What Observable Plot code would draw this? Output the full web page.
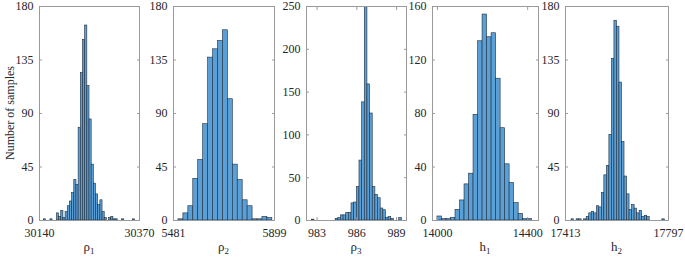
<!DOCTYPE html>
<html><head><meta charset="utf-8">
<script src="https://cdn.jsdelivr.net/npm/d3@7"></script>
<script src="https://cdn.jsdelivr.net/npm/@observablehq/plot@0.6"></script>
<style>
body{margin:0;background:#fff;}
#chart{position:relative;width:685px;height:267px;font-family:"Liberation Serif","Times New Roman",serif;overflow:hidden;}
#chart svg{position:absolute;top:0;overflow:visible;}
#ylab{position:absolute;left:10px;top:113px;transform:translate(-50%,-50%) rotate(-90deg);font-size:12px;color:#262626;white-space:nowrap;}
</style></head><body><div id="chart"><div id="ylab">Number of samples</div></div>
<script>
// ρ1
const rho1Counts = [1,0,0,1,0,0,6,3,8,2,7,12,16,23,34,30,78,124,152,164,113,85,47,31,22,13,17,7,2,0,2,3,1,1,0,0,1,0,0,0,0,1];
const rho1BinStart = 30150, rho1BinWidth = 5;
const rho1XDomain = [30140, 30370], rho1XTicks = [30140, 30370], rho1YTicks = [0,45,90,135,180];
// ρ2
const rho2Counts = [1,6,12,35,51,81,137,144,151,160,102,47,34,17,12,1,1,3,2];
const rho2BinStart = 5501.5, rho2BinWidth = 20.45;
const rho2XDomain = [5481, 5899], rho2XTicks = [5481, 5899], rho2YTicks = [0,45,90,135,180];
// ρ3
const rho3Counts = [1,0,0,0,0,0,0,0,0,2,3,6,6,9,9,20,21,39,70,138,260,159,125,39,30,26,14,12,3,4,2,0,0,3];
const rho3BinStart = 982.6, rho3BinWidth = 0.2;
const rho3XDomain = [982.2, 989.75], rho3XTicks = [983, 986, 989], rho3YTicks = [0,50,100,150,200,250];
// h1
const h1Counts = [3,1,1,2,8,15,27,35,79,134,154,137,140,106,69,42,28,13,5,1,1];
const h1BinStart = 14000, h1BinWidth = 20;
const h1XDomain = [13978, 14448], h1XTicks = [14000, 14400], h1YTicks = [0,40,80,120,160];
// h2
const h2Counts = [1,0,1,1,0,1,3,6,7,6,12,11,23,38,46,72,136,168,163,116,66,37,22,9,13,10,6,8,3,4,3,0,0,0,0,0,1];
const h2BinStart = 17435.6, h2BinWidth = 9.4;
const h2XDomain = [17413, 17797], h2XTicks = [17413, 17797], h2YTicks = [0,45,90,135,180];

const panels = [
  {counts: rho1Counts, start: rho1BinStart, bw: rho1BinWidth, xd: rho1XDomain, xt: rho1XTicks, yt: rho1YTicks, left: 39, right: 139, sym: "ρ", sub: "1"},
  {counts: rho2Counts, start: rho2BinStart, bw: rho2BinWidth, xd: rho2XDomain, xt: rho2XTicks, yt: rho2YTicks, left: 173, right: 274, sym: "ρ", sub: "2"},
  {counts: rho3Counts, start: rho3BinStart, bw: rho3BinWidth, xd: rho3XDomain, xt: rho3XTicks, yt: rho3YTicks, left: 305.5, right: 405.5, sym: "ρ", sub: "3"},
  {counts: h1Counts, start: h1BinStart, bw: h1BinWidth, xd: h1XDomain, xt: h1XTicks, yt: h1YTicks, left: 432, right: 538, sym: "h", sub: "1"},
  {counts: h2Counts, start: h2BinStart, bw: h2BinWidth, xd: h2XDomain, xt: h2XTicks, yt: h2YTicks, left: 565, right: 668, sym: "h", sub: "2"}
];

const chartEl = document.getElementById("chart");
const mL = 34, mR = 20, plotTop = 6, plotBottom = 220, H = 267;
const barFill = "#5a9fd6", barEdge = "#1e2d3c", frameColor = "#9a9a9a", textColor = "#262626";

for (const p of panels) {
  const bars = p.counts.map((c, i) => ({x1: p.start + i * p.bw, x2: p.start + (i + 1) * p.bw, y: c})).filter(d => d.y > 0);
  const yMax = p.yt[p.yt.length - 1];
  const svg = Plot.plot({
    width: (p.right - p.left) + mL + mR,
    height: H,
    marginLeft: mL, marginRight: mR, marginTop: plotTop, marginBottom: H - plotBottom,
    style: {fontFamily: "'Liberation Serif','Times New Roman',serif", fontSize: "12px", color: textColor, background: "transparent", overflow: "visible"},
    x: {domain: p.xd},
    y: {domain: [0, yMax]},
    marks: [
      Plot.rect(bars, {x1: "x1", x2: "x2", y1: 0, y2: "y", fill: barFill, stroke: barEdge, strokeWidth: 0.6, clip: true}),
      Plot.frame({stroke: frameColor, strokeWidth: 1}),
      Plot.axisY({ticks: p.yt, anchor: "left", tickSize: -3, tickPadding: 9, stroke: frameColor, fill: textColor, label: null}),
      Plot.axisY({ticks: p.yt, anchor: "right", tickSize: -3, tickFormat: () => "", stroke: frameColor, label: null}),
      Plot.axisX({ticks: p.xt, anchor: "bottom", tickSize: -3, tickPadding: 11, tickFormat: d => String(d), stroke: frameColor, fill: textColor, label: null}),
      Plot.axisX({ticks: p.xt, anchor: "top", tickSize: -3, tickFormat: () => "", stroke: frameColor, label: null})
    ]
  });
  svg.style.left = (p.left - mL) + "px";
  const s = d3.select(svg);
  const t = s.append("text")
    .attr("x", mL + (p.right - p.left) / 2)
    .attr("y", 251)
    .attr("text-anchor", "middle")
    .attr("fill", textColor)
    .attr("font-family", "'Liberation Serif','Times New Roman',serif")
    .attr("font-size", 13);
  t.append("tspan").text(p.sym);
  t.append("tspan").attr("dy", 3).attr("font-size", 9).text(p.sub);
  chartEl.appendChild(svg);
}
</script>
</body></html>
